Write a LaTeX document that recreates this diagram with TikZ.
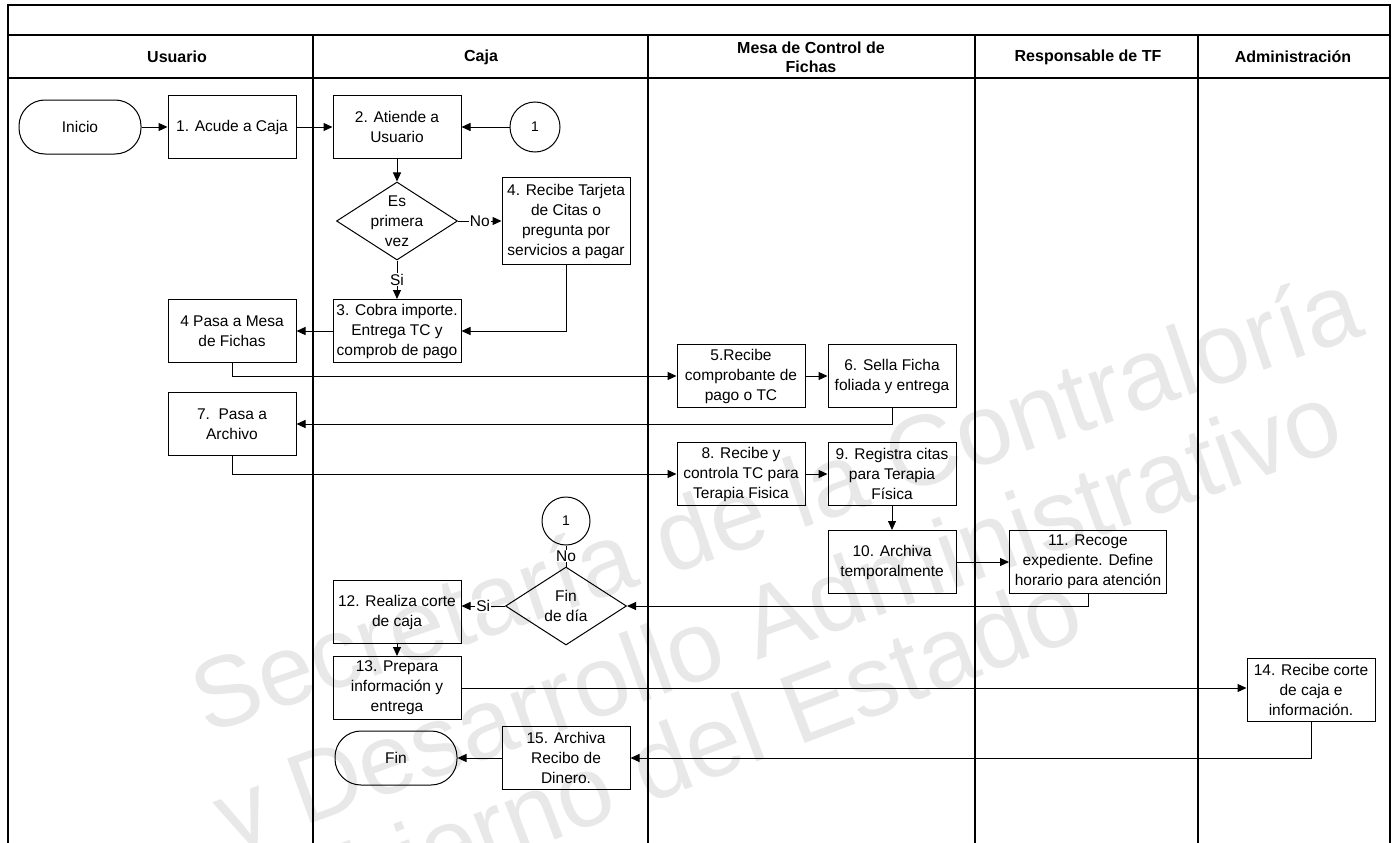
\documentclass[tikz,border=0pt]{standalone}
\usepackage{fontspec}
\setmainfont{Liberation Sans}
\usetikzlibrary{arrows.meta,shapes.geometric}
\begin{document}
\begin{tikzpicture}[x=1pt,y=-1pt,
  txt/.style={font=\fontsize{15.5}{20}\selectfont, align=center},
  box/.style={txt, draw, line width=1pt, minimum width=128pt, minimum height=63pt, inner sep=1pt},
  term/.style={txt, draw, line width=1pt, rounded corners=26pt, minimum width=122pt, minimum height=54pt},
  dec/.style={diamond, draw, line width=1pt, inner sep=0pt, minimum width=121pt, minimum height=78pt},
  conn/.style={circle, draw, line width=1pt, minimum size=50pt, inner sep=0pt, font=\fontsize{14}{16}\selectfont},
  hdr/.style={font=\fontsize{16}{19}\selectfont\bfseries, align=center},
  arr/.style={line width=1pt, -{Triangle[length=9pt,width=8pt]}},
  ln/.style={line width=1pt},
  lab/.style={fill=white, inner sep=1pt, font=\fontsize{15.5}{18}\selectfont},
  lane/.style={line width=1.8pt},
  wm/.style={text=black!9, font=\fontsize{100}{100}\selectfont},
]
\useasboundingbox (0,0) rectangle (1397,843);
% watermark
\begin{scope}
\clip (0,0) rectangle (1397,843);
\node[wm, rotate=19] (wm1) at (775,500) {Secretaría de la Contraloría};
\node[wm, rotate=20] (wm2) at (780,625) {y Desarrollo Administrativo};
\node[wm, rotate=21] (wm3) at (650,765) {Gobierno del Estado};
\end{scope}
% frame and lanes
\draw[lane] (8,843) -- (8,5) -- (1390,5) -- (1390,843);
\draw[lane] (8,35) -- (1390,35);
\draw[lane] (8,78) -- (1390,78);
\foreach \x in {313,648,975,1198} \draw[lane] (\x,35) -- (\x,843);
% headers
\node[hdr] (h1) at (177,57) {Usuario};
\node[hdr] (h2) at (481,57) {Caja};
\node[hdr] (h3) at (811,57) {Mesa de Control de\\Fichas};
\node[hdr] (h4) at (1088,57) {Responsable de TF};
\node[hdr] (h5) at (1293,57) {Administración};
% nodes
\node[term] (inicio) at (80,127) {Inicio};
\node[box] (n1) at (232,127) {1. Acude a Caja};
\node[box] (n2) at (397,127) {2. Atiende a\\Usuario};
\node[conn] (c1) at (535,127) {1};
\node[dec] (d1) at (397,221) {};
\node[txt] (d1t) at (d1) {Es\\primera\\vez};
\node[box, minimum height=87pt] (n4) at (566,221) {4. Recibe Tarjeta\\de Citas o\\pregunta por\\servicios a pagar};
\node[box] (n3) at (397,331) {3. Cobra importe.\\Entrega TC y\\comprob de pago};
\node[box] (n4b) at (232,331) {4 Pasa a Mesa\\de Fichas};
\node[box] (n5) at (741,376) {5.Recibe\\comprobante de\\pago o TC};
\node[box] (n6) at (892,376) {6. Sella Ficha\\foliada y entrega};
\node[box] (n7) at (232,424) {7.\ \ Pasa a\\Archivo};
\node[box] (n8) at (741,474) {8. Recibe y\\controla TC para\\Terapia Fisica};
\node[box] (n9) at (892,474) {9. Registra citas\\para Terapia\\Física};
\node[box] (n10) at (892,562) {10. Archiva\\temporalmente};
\node[box, minimum width=157pt] (n11) at (1088,562) {11. Recoge\\expediente. Define\\horario para atención};
\node[conn, minimum size=48pt] (c2) at (566,521) {1};
\node[dec] (d2) at (566,606) {};
\node[txt] (d2t) at (d2) {Fin\\de día};
\node[box] (n12) at (397,612) {12. Realiza corte\\de caja};
\node[box] (n13) at (397,688) {13. Prepara\\información y\\entrega};
\node[box] (n14) at (1311,690) {14. Recibe corte\\de caja e\\información.};
\node[box] (n15) at (566,758) {15. Archiva\\Recibo de\\Dinero.};
\node[term] (fin) at (396,758) {Fin};
% connectors
\draw[arr] (inicio) -- (n1);
\draw[arr] (n1) -- (n2);
\draw[arr] (c1) -- (n2);
\draw[arr] (n2) -- (d1);
\draw[arr] (d1) -- node[lab] {No} (n4);
\draw[arr] (d1) -- node[lab] {Si} (n3);
\draw[arr] (n4.south) |- (n3.east);
\draw[arr] (n3) -- (n4b);
\draw[arr] (n4b.south) |- (n5.west);
\draw[arr] (n5) -- (n6);
\draw[arr] (n6.south) |- (n7.east);
\draw[arr] (n7.south) |- (n8.west);
\draw[arr] (n8) -- (n9);
\draw[arr] (n9) -- (n10);
\draw[arr] (n10) -- (n11);
\draw[arr] (n11.south) |- (d2.east);
\draw[ln] (d2) -- node[lab] {No} (c2);
\draw[arr] (d2.west) -- node[lab] {Si} (d2.west -| n12.east);
\draw[arr] (n12) -- (n13);
\draw[arr] (n13.east) -- (n13.east -| n14.west);
\draw[arr] (n14.south) |- (n15.east);
\draw[arr] (n15) -- (fin);
\end{tikzpicture}
\end{document}
